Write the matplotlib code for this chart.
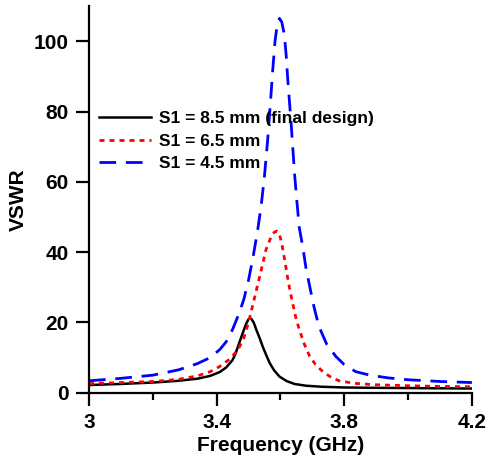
import numpy as np
import matplotlib
matplotlib.use("Agg")
import matplotlib.pyplot as plt
from matplotlib.ticker import MultipleLocator

plt.rcParams['font.family'] = ['Liberation Sans', 'DejaVu Sans']
plt.rcParams['font.weight'] = 'bold'

# S1 = 8.5 mm (final design)
f_85 = [3.00, 3.10, 3.20, 3.28, 3.34, 3.38, 3.41, 3.43, 3.45, 3.46, 3.472,
        3.482, 3.492, 3.50, 3.505, 3.51, 3.517, 3.524, 3.535, 3.545, 3.555,
        3.566, 3.58, 3.597, 3.62, 3.644, 3.68, 3.73, 3.80, 3.90, 4.05, 4.20]
v_85 = [2.2, 2.5, 2.9, 3.4, 4.0, 4.8, 5.9, 7.2, 9.3, 11.3, 14.5,
        17.0, 19.5, 20.9, 21.2, 20.9, 19.8, 18.0, 15.5, 13.0, 10.8,
        8.5, 6.4, 4.6, 3.3, 2.5, 2.0, 1.7, 1.5, 1.4, 1.3, 1.2]

# S1 = 6.5 mm
f_65 = [3.00, 3.10, 3.20, 3.28, 3.34, 3.38, 3.41, 3.44, 3.46, 3.47, 3.485,
        3.50, 3.512, 3.524, 3.54, 3.555, 3.57, 3.58, 3.588, 3.596, 3.604,
        3.612, 3.622, 3.63, 3.638, 3.648, 3.659, 3.675, 3.691, 3.71, 3.733,
        3.76, 3.784, 3.83, 3.89, 4.00, 4.10, 4.20]
v_65 = [2.6, 2.9, 3.2, 3.8, 4.8, 6.0, 7.5, 9.5, 11.5, 12.8, 15.5,
        20.0, 24.5, 29.0, 35.0, 40.8, 44.2, 45.6, 46.0, 45.4, 42.5,
        38.5, 33.0, 29.0, 25.6, 21.5, 18.0, 13.8, 10.5, 8.0, 6.0,
        4.3, 3.4, 2.7, 2.3, 2.0, 1.8, 1.7]

# S1 = 4.5 mm
f_45 = [3.00, 3.10, 3.20, 3.28, 3.34, 3.38, 3.41, 3.43, 3.45, 3.47, 3.485,
        3.50, 3.515, 3.529, 3.54, 3.55, 3.56, 3.569, 3.576, 3.583, 3.59,
        3.597, 3.604, 3.612, 3.618, 3.623, 3.634, 3.644, 3.652, 3.659, 3.67,
        3.68, 3.69, 3.705, 3.72, 3.745, 3.774, 3.80, 3.836, 3.88, 3.94,
        4.00, 4.10, 4.20]
v_45 = [3.4, 4.1, 5.0, 6.5, 8.3, 10.0, 12.3, 14.5, 18.0, 22.5, 26.5,
        32.0, 39.0, 46.5, 53.5, 61.7, 72.0, 83.0, 92.0, 100.0, 104.8,
        106.5, 105.5, 102.0, 96.0, 89.0, 76.0, 62.5, 54.0, 47.0, 41.5,
        35.5, 31.0, 24.5, 19.0, 13.8, 10.3, 8.0, 6.0, 5.0, 4.2,
        3.7, 3.2, 2.9]

fig = plt.figure(figsize=(4.89, 4.67), dpi=100)
ax = fig.add_axes([0.182, 0.159, 0.783, 0.828])

ax.plot(f_85, v_85, color="black", lw=1.8, label="S1 = 8.5 mm (final design)")
ax.plot(f_65, v_65, color="red", lw=2.0, dashes=(1.8, 1.8), label="S1 = 6.5 mm")
ax.plot(f_45, v_45, color="blue", lw=2.0, dashes=(6, 3.5), label="S1 = 4.5 mm")

ax.set_xlim(3, 4.2)
ax.set_ylim(0, 110)
ax.xaxis.set_minor_locator(MultipleLocator(0.2))
ax.yaxis.set_major_locator(MultipleLocator(20))
ax.set_xticks([3, 3.4, 3.8, 4.2])
ax.set_xticklabels(["3", "3.4", "3.8", "4.2"])

for s in ["top", "right"]:
    ax.spines[s].set_visible(False)
for s in ["left", "bottom"]:
    ax.spines[s].set_linewidth(1.6)

ax.tick_params(axis="both", which="major", direction="out", length=9.5, width=1.6,
               labelsize=15, pad=5)
ax.tick_params(axis="x", which="minor", direction="out", length=5, width=1.6)

ax.set_xlabel("Frequency (GHz)", fontsize=15, fontweight="bold", labelpad=3)
ax.set_ylabel("VSWR", fontsize=15, fontweight="bold", labelpad=4)

ax.legend(loc="center left", bbox_to_anchor=(0.026, 0.651), frameon=False,
          fontsize=12.5, handlelength=3.0, handletextpad=0.45, labelspacing=0.42,
          borderpad=0, borderaxespad=0)

fig.savefig("out.png", dpi=100)
